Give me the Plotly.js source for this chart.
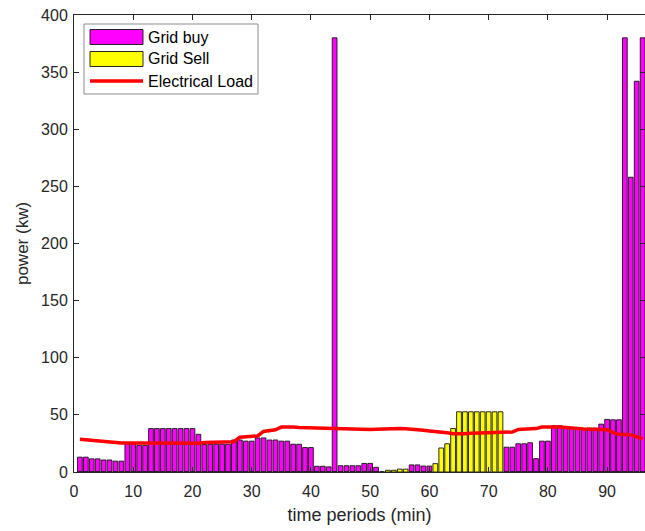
<!DOCTYPE html>
<html>
<head>
<meta charset="utf-8">
<script src="https://cdn.plot.ly/plotly-3.0.1.min.js"></script>
<style>
  html, body { margin: 0; padding: 0; background: #ffffff; }
  #chart { width: 645px; height: 531px; }
</style>
</head>
<body>
<div id="chart"></div>
<script>
// Time periods 1..96
const periods = Array.from({length: 96}, (_, i) => i + 1);

// Power bought from the grid (kW) per period
const gridBuy = [
  13, 13, 11.5, 11.5, 10.5, 10.5, 9.5, 9.5, 24.5, 24.5,
  23.3, 23.3, 38, 38, 38, 38, 38, 38, 38, 38,
  33, 24, 24.3, 24.3, 24.3, 24.3, 28, 28, 27, 27,
  29.8, 29.8, 28, 28, 27, 27, 24.3, 24.3, 21.4, 21.4,
  5, 5, 4.5, 380, 5.5, 5.5, 5.5, 5.5, 7.5, 7.5,
  4.1, 0, 0, 0, 0, 0, 6.2, 6.2, 5.2, 5.2,
  0, 0, 0, 0, 0, 0, 0, 0, 0, 0,
  0, 0, 21.7, 21.7, 24.7, 24.7, 25.6, 11.7, 27, 27,
  40.5, 40.5, 39.7, 39, 38.4, 37.5, 38.4, 38.4, 41.9, 46,
  45.7, 45.7, 380, 258, 342, 380
];

// Power sold to the grid (kW) per period
const gridSell = [
  0, 0, 0, 0, 0, 0, 0, 0, 0, 0,
  0, 0, 0, 0, 0, 0, 0, 0, 0, 0,
  0, 0, 0, 0, 0, 0, 0, 0, 0, 0,
  0, 0, 0, 0, 0, 0, 0, 0, 0, 0,
  0, 0, 0, 0, 0, 0, 0, 0, 0, 0,
  0, 0, 1.5, 1.5, 2.5, 2.5, 0, 0, 0, 0,
  7.3, 21, 24.7, 38.1, 52.7, 52.7, 52.7, 52.7, 52.7, 52.7,
  52.7, 52.7, 0, 0, 0, 0, 0, 0, 0, 0,
  0, 0, 0, 0, 0, 0, 0, 0, 0, 0,
  0, 0, 0, 0, 0, 0
];

// Electrical load (kW) per period
const electricalLoad = [
  28.7, 28.2, 27.5, 27, 26.7, 26, 25.6, 25.3, 25.3, 25.3,
  25, 24.8, 24.8, 24.8, 24.9, 24.9, 25, 25, 25, 25,
  25.2, 25.8, 26, 26, 26, 26.2, 26.5, 30.5, 31, 31,
  31.5, 35.5, 36.5, 37, 39.3, 39.5, 39.3, 39, 38.8, 38.6,
  38.4, 38.2, 38, 37.8, 37.7, 37.6, 37.5, 37.4, 37.3, 37.3,
  37.4, 37.7, 38, 38.2, 38, 37.8, 37.5, 37.2, 36.5, 35.8,
  35.5, 34.8, 34.3, 33.5, 33.2, 33.5, 34, 34.2, 34.3, 34.4,
  34.5, 34.6, 34.8, 35, 37.3, 37.5, 37.7, 38, 39.3, 39.5,
  39.5, 39.3, 39, 38.8, 38, 37.6, 37.5, 37.5, 37.4, 37,
  34.5, 33, 32.8, 32.5, 31, 29
];

const seriesNames = ['Grid buy', 'Grid Sell', 'Electrical Load'];
const xTicks = [0, 10, 20, 30, 40, 50, 60, 70, 80, 90];
const yTicks = [0, 50, 100, 150, 200, 250, 300, 350, 400];

const MAGENTA = '#ff00ff';
const YELLOW = '#ffff00';
const RED = '#ff0000';
const EDGE = 'rgba(20,20,20,0.9)';
const AXIS = '#262626';
const FONT = 'Liberation Sans, Arial, sans-serif';

// Plot area in pixels
const W = 645, H = 531;
const M = {l: 74, r: 0, t: 15, b: 59};
const PW = W - M.l - M.r, PH = H - M.t - M.b;
const px2x = px => (px - M.l) / PW;
const px2y = py => (H - M.b - py) / PH;

const traces = [
  {
    type: 'bar', name: seriesNames[0], x: periods, y: gridBuy, width: 0.8,
    marker: {color: MAGENTA, line: {color: EDGE, width: 1}},
    showlegend: false, hoverinfo: 'x+y'
  },
  {
    type: 'bar', name: seriesNames[1], x: periods, y: gridSell, width: 0.8,
    marker: {color: YELLOW, line: {color: EDGE, width: 1}},
    showlegend: false, hoverinfo: 'x+y'
  },
  {
    type: 'scatter', mode: 'lines', name: seriesNames[2], x: periods, y: electricalLoad,
    line: {color: RED, width: 3.5},
    showlegend: false
  }
];

// Boxed legend in the upper-left corner
const legendBox = {x0: 84, y0: 24, x1: 258, y1: 94};
const legendRows = [
  {kind: 'rect', color: MAGENTA, yc: 37},
  {kind: 'rect', color: YELLOW, yc: 59},
  {kind: 'line', color: RED, yc: 81}
];
const shapes = [
  {
    type: 'rect', xref: 'paper', yref: 'paper',
    x0: px2x(legendBox.x0), x1: px2x(legendBox.x1),
    y0: px2y(legendBox.y1), y1: px2y(legendBox.y0),
    fillcolor: '#ffffff', line: {color: '#8c8c8c', width: 1}, layer: 'above'
  }
];
const annotations = [];
legendRows.forEach((row, i) => {
  if (row.kind === 'rect') {
    shapes.push({
      type: 'rect', xref: 'paper', yref: 'paper',
      x0: px2x(90), x1: px2x(143), y0: px2y(row.yc + 7.5), y1: px2y(row.yc - 7.5),
      fillcolor: row.color, line: {color: EDGE, width: 1}, layer: 'above'
    });
  } else {
    shapes.push({
      type: 'line', xref: 'paper', yref: 'paper',
      x0: px2x(90), x1: px2x(143), y0: px2y(row.yc), y1: px2y(row.yc),
      line: {color: row.color, width: 3.5}, layer: 'above'
    });
  }
  annotations.push({
    xref: 'paper', yref: 'paper', x: px2x(146), y: px2y(row.yc),
    xanchor: 'left', yanchor: 'middle', showarrow: false,
    text: seriesNames[i],
    font: {family: FONT, size: 16, color: '#000000'}
  });
});

const layout = {
  width: W, height: H,
  margin: M,
  paper_bgcolor: '#ffffff',
  plot_bgcolor: '#ffffff',
  barmode: 'overlay',
  showlegend: false,
  font: {family: FONT, color: AXIS},
  xaxis: {
    range: [0, 96.4],
    tickvals: xTicks,
    ticks: 'inside', ticklen: 5, tickcolor: AXIS, tickwidth: 1,
    showline: true, linecolor: AXIS, linewidth: 1, mirror: 'allticks',
    showgrid: false, zeroline: false,
    ticklabelstandoff: 5,
    tickfont: {size: 16, color: AXIS},
    title: {text: 'time periods (min)', font: {size: 18, color: AXIS}, standoff: 9}
  },
  yaxis: {
    range: [0, 400],
    tickvals: yTicks,
    ticks: 'inside', ticklen: 5, tickcolor: AXIS, tickwidth: 1,
    showline: true, linecolor: AXIS, linewidth: 1, mirror: 'allticks',
    showgrid: false, zeroline: false,
    ticklabelstandoff: 2,
    tickfont: {size: 16, color: AXIS},
    title: {text: 'power (kw)', font: {size: 17, color: AXIS}, standoff: 8}
  },
  shapes: shapes,
  annotations: annotations
};

Plotly.newPlot('chart', traces, layout, {displayModeBar: false, staticPlot: true});
</script>
</body>
</html>
